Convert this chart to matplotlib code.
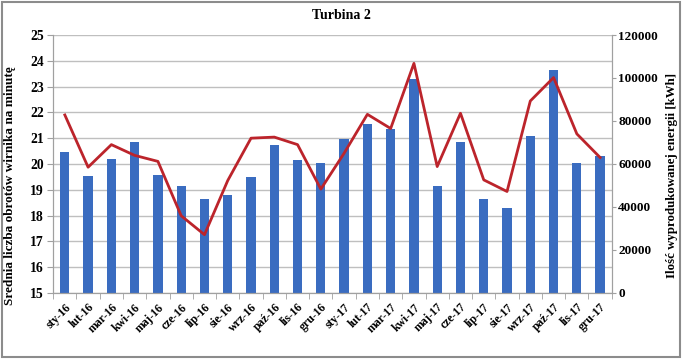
import matplotlib
matplotlib.use('Agg')
import matplotlib.pyplot as plt
from matplotlib.ticker import FixedLocator
import numpy as np

# months on the x axis
months = ['sty-16', 'lut-16', 'mar-16', 'kwi-16', 'maj-16', 'cze-16',
          'lip-16', 'sie-16', 'wrz-16', 'paź-16', 'lis-16', 'gru-16',
          'sty-17', 'lut-17', 'mar-17', 'kwi-17', 'maj-17', 'cze-17',
          'lip-17', 'sie-17', 'wrz-17', 'paź-17', 'lis-17', 'gru-17']

# average rotor speed (left axis, bars)
rotor_speed = [20.45, 19.52, 20.19, 20.85, 19.58, 19.14,
               18.63, 18.79, 19.50, 20.73, 20.14, 20.02,
               20.95, 21.55, 21.37, 23.30, 19.13, 20.86,
               18.66, 18.29, 21.09, 23.65, 20.02, 20.32]

# produced energy in kWh (right axis, line)
energy = [82800, 58500, 69000, 64000, 61200, 35900,
          27100, 52300, 72000, 72500, 69000, 48300,
          65000, 83100, 76500, 106800, 58800, 83600,
          52600, 47200, 89300, 100200, 74000, 63000]

plt.rcParams['font.family'] = 'Liberation Serif'
plt.rcParams['font.weight'] = 'bold'

fig = plt.figure(figsize=(6.82, 3.59), dpi=100)
fig.subplots_adjust(left=0.078, right=0.897, top=0.9025, bottom=0.184)
ax = fig.add_subplot(111)
ax2 = ax.twinx()

x = np.arange(len(months))
ax.bar(x, rotor_speed, width=0.4, color='#3a6cc0', zorder=2)
ax.set_ylim(15, 25)
ax.set_xlim(-0.5, len(months) - 0.5)
ax.set_yticks(np.arange(15, 26, 1))
ax.grid(axis='y', color='#bfbfbf', linewidth=1, zorder=0)
ax.set_axisbelow(True)

ax2.plot(x, energy, color='#bc242b', linewidth=2, zorder=3)
ax2.set_ylim(0, 120000)
ax2.set_yticks(np.arange(0, 120001, 20000))

ax.set_xticks(x)
ax.set_xticklabels(months, rotation=45, ha='right', rotation_mode='anchor',
                   fontsize=8.5, fontweight='bold')
ax.xaxis.set_minor_locator(FixedLocator(np.arange(-0.5, len(months), 1)))
ax.tick_params(axis='x', which='major', length=0, pad=6)
ax.tick_params(axis='x', which='minor', length=4, color='#a0a0a0')
ax.tick_params(axis='y', length=4.5, color='#a0a0a0', labelsize=9.8, pad=2)
ax2.tick_params(axis='y', length=3, color='#a0a0a0', labelsize=9.5, pad=1.5)

for a in (ax, ax2):
  for s in a.spines.values():
    s.set_color('#a0a0a0')
  a.spines['top'].set_visible(False)

ax.set_ylabel('Średnia liczba obrotów wirnika na minutę', fontsize=9.5,
              fontweight='bold')
ax.yaxis.set_label_coords(-0.066, 0.415)
ax2.set_ylabel('Ilość wyprodukowanej energii [kWh]', fontsize=9.3,
               fontweight='bold')
ax2.yaxis.set_label_coords(1.098, 0.457)
fig.suptitle('Turbina 2', y=0.975, fontsize=10, fontweight='bold')

# frame around the whole chart
fig.patches.append(plt.Rectangle((0.003, 0.006), 0.994, 0.988, transform=fig.transFigure,
                                 fill=False, edgecolor='#8c8c8c', linewidth=1.5))

fig.savefig('out.png', dpi=100)
